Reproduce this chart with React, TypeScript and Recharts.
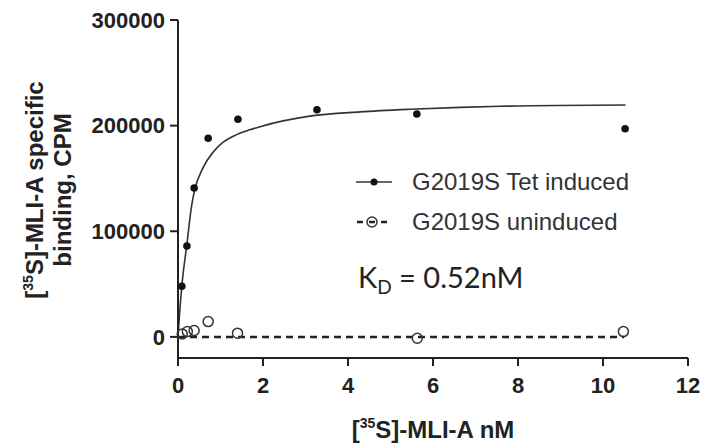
import React from 'react';
import { ComposedChart, Line, Scatter, XAxis, YAxis, Legend, Label } from 'recharts';

const xTicks = [0, 2, 4, 6, 8, 10, 12];
const yTicks = [0, 100000, 200000, 300000];

// G2019S Tet induced, measured points
const inducedX = [0.09, 0.21, 0.38, 0.71, 1.41, 3.27, 5.62, 10.52];
const inducedY = [48000, 86000, 141000, 188000, 206000, 215000, 211000, 197000];

// G2019S uninduced, measured points
const uninducedX = [0.1, 0.22, 0.38, 0.71, 1.4, 5.63, 10.48];
const uninducedY = [2800, 5000, 6000, 14500, 3500, -1300, 5000];

// saturation fit drawn through the induced points
const fitX = [0, 0.03, 0.09, 0.21, 0.32, 0.38, 0.6, 0.83, 1.07, 1.38, 1.69, 1.93, 3.1, 4.28, 5.46, 6.64, 7.58, 10.53];
const fitY = [0, 18000, 48000, 88000, 124000, 137000, 161000, 175000, 184500, 191500, 196000, 199000, 209000, 213000, 215500, 217300, 218300, 219500];

// flat fit of the uninduced points
const flatX = [0, 10.5];
const flatY = [0, 0];

const legendNames = ['G2019S Tet induced', 'G2019S uninduced'];

const FONT = '"Liberation Sans", Arial, sans-serif';

const toPts = (xs: number[], ys: number[]) => xs.map((x, i) => ({ x, y: ys[i] }));

const inducedPts = toPts(inducedX, inducedY);
const uninducedPts = toPts(uninducedX, uninducedY);
const fitPts = toPts(fitX, fitY);
const flatPts = toPts(flatX, flatY);

const YTitle = () => (
  <g fontFamily={FONT} fontSize={24} fontWeight={700} fill="#222">
    <text x={43} y={190} transform="rotate(-90 43 190)" textAnchor="middle">
      [<tspan fontSize={14} dy={-10}>35</tspan>
      <tspan dy={10}>S]-MLI-A specific</tspan>
    </text>
    <text x={71} y={190} transform="rotate(-90 71 190)" textAnchor="middle">
      binding, CPM
    </text>
  </g>
);

const XTitle = () => (
  <text x={433} y={438} textAnchor="middle" fontFamily={FONT} fontSize={24} fontWeight={700} fill="#222">
    [<tspan fontSize={14} dy={-10}>35</tspan>
    <tspan dy={10}>S]-MLI-A nM</tspan>
  </text>
);

function LegendBox(props: any) {
  const payload = (props.payload || []).filter((p: any) => legendNames.includes(p.value));
  return (
    <div>
      {payload.map((p: any, i: number) => (
        <div key={p.value} style={{ display: 'flex', alignItems: 'center', height: 40 }}>
          <svg width={58} height={40}>
            {i === 0 ? (
              <>
                <line x1={2} y1={20} x2={38} y2={20} stroke="#333" strokeWidth={1.5} />
                <circle cx={20} cy={20} r={3.5} fill="#111" />
              </>
            ) : (
              <>
                <line x1={3} y1={20} x2={36} y2={20} stroke="#222" strokeWidth={2.5} strokeDasharray="6 6" />
                <circle cx={18} cy={20} r={5} fill="none" stroke="#333" strokeWidth={1.5} />
              </>
            )}
          </svg>
          <span style={{ fontFamily: FONT, fontSize: 24, color: '#333', whiteSpace: 'nowrap' }}>{p.value}</span>
        </div>
      ))}
    </div>
  );
}

const axisStyle = { stroke: '#222', strokeWidth: 2 };
const tickStyle = { fill: '#222', fontSize: 22, fontWeight: 700, fontFamily: FONT };

export default function App() {
  return (
    <div style={{ position: 'absolute', left: 0, top: 0, width: 701, height: 447, background: '#fff' }}>
      <ComposedChart width={701} height={447} margin={{ top: 20, right: 13, bottom: 29, left: 78 }}>
        <XAxis
          type="number"
          dataKey="x"
          domain={[0, 12]}
          ticks={xTicks}
          height={60}
          axisLine={axisStyle}
          tickLine={axisStyle}
          tickSize={8}
          tickMargin={11}
          tick={tickStyle}
        >
          <Label content={XTitle} />
        </XAxis>
        <YAxis
          type="number"
          dataKey="y"
          domain={[-20000, 300000]}
          ticks={yTicks}
          width={100}
          axisLine={axisStyle}
          tickLine={axisStyle}
          tickSize={8}
          tickMargin={5}
          tick={tickStyle}
        >
          <Label content={YTitle} />
        </YAxis>
        <Legend
          layout="horizontal"
          verticalAlign="middle"
          align="center"
          content={LegendBox}
          wrapperStyle={{ left: 354, top: 162, width: 340, height: 80 }}
        />
        <Line
          data={fitPts}
          dataKey="y"
          type="monotone"
          stroke="#333"
          strokeWidth={1.6}
          dot={false}
          legendType="none"
          isAnimationActive={false}
        />
        <Line
          data={flatPts}
          dataKey="y"
          type="linear"
          stroke="#222"
          strokeWidth={2.5}
          strokeDasharray="7 5"
          dot={false}
          legendType="none"
          isAnimationActive={false}
        />
        <Scatter
          name="G2019S Tet induced"
          data={inducedPts}
          dataKey="y"
          fill="#111"
          shape={(p: any) => <circle cx={p.cx} cy={p.cy} r={3.8} fill="#111" />}
          isAnimationActive={false}
        />
        <Scatter
          name="G2019S uninduced"
          data={uninducedPts}
          dataKey="y"
          fill="none"
          shape={(p: any) => <circle cx={p.cx} cy={p.cy} r={5} fill="none" stroke="#333" strokeWidth={1.5} />}
          isAnimationActive={false}
        />
      </ComposedChart>
      <svg width={701} height={447} style={{ position: 'absolute', left: 0, top: 0, pointerEvents: 'none' }}>
        <text x={358} y={288} fontFamily="Lato, sans-serif" fontSize={29} fill="#222">
          K<tspan fontSize={19} dy={6}>D</tspan>
          <tspan dy={-6}> = 0.52nM</tspan>
        </text>
      </svg>
    </div>
  );
}
